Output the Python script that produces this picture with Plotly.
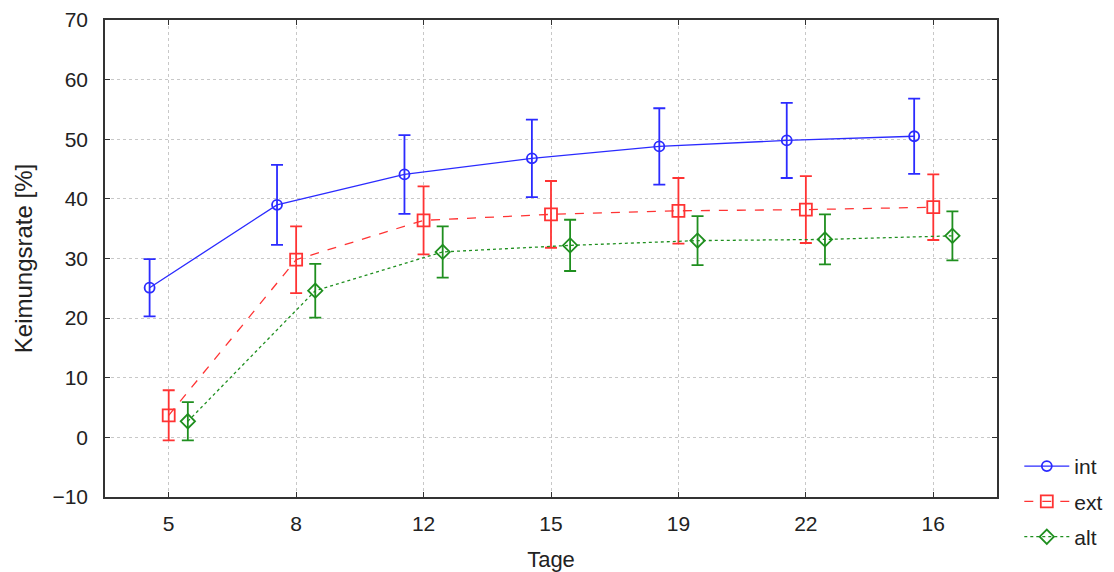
import plotly.graph_objects as go

tage = ["5", "8", "12", "15", "19", "22", "16"]
int_mean = [25.1, 39.0, 44.1, 46.8, 48.8, 49.8, 50.5]
int_err = [4.8, 6.7, 6.6, 6.5, 6.4, 6.3, 6.3]
ext_mean = [3.7, 29.8, 36.4, 37.4, 38.0, 38.2, 38.6]
ext_err = [4.2, 5.6, 5.7, 5.6, 5.5, 5.6, 5.5]
alt_mean = [2.7, 24.6, 31.1, 32.2, 33.0, 33.2, 33.8]
alt_err = [3.2, 4.5, 4.3, 4.3, 4.1, 4.2, 4.1]

idx = list(range(len(tage)))
offset = 0.15

series = [
    ("int", int_mean, int_err, -offset, "#2b2bff", "solid", "circle-open", 10),
    ("ext", ext_mean, ext_err, 0.0, "#ff3333", "dash", "square-open", 12),
    ("alt", alt_mean, alt_err, offset, "#1f8f1f", "dot", "diamond-open", 11),
]

fig = go.Figure()
for name, m, e, off, col, dash, sym, sz in series:
    fig.add_trace(go.Scatter(
        x=[i + off for i in idx], y=m, name=name, mode="lines+markers",
        legendgroup=name,
        line=dict(color=col, dash=dash, width=1.3),
        marker=dict(symbol=sym, size=sz, color=col, line=dict(width=1.8, color=col)),
        error_y=dict(type="data", array=e, visible=True, color=col, thickness=1.8, width=6),
    ))

fig.update_layout(
    width=1106, height=564,
    paper_bgcolor="white", plot_bgcolor="white",
    margin=dict(l=97, r=117, t=12, b=75, autoexpand=False),
    font=dict(family="Liberation Sans, Arial, sans-serif", size=20, color="#222222"),
    legend=dict(x=1.025, xanchor="left", y=0.107, yanchor="top",
                font=dict(size=21), tracegroupgap=5, traceorder="grouped",
                itemwidth=45, bgcolor="rgba(0,0,0,0)"),
    showlegend=True,
)
fig.update_xaxes(
    tickmode="array", tickvals=idx, ticktext=tage,
    range=[-0.5, 6.5],
    showgrid=True, gridcolor="#c8c8c8", griddash="dot", gridwidth=1,
    showline=True, linecolor="#333333", linewidth=1.5, mirror="ticks",
    ticks="inside", ticklen=5, tickcolor="#333333",
    zeroline=False, automargin=False,
    title=dict(text="Tage", font=dict(size=22), standoff=18),
    tickfont=dict(size=21), ticklabelstandoff=7,
)
fig.update_yaxes(
    range=[-10, 70], tickmode="linear", tick0=-10, dtick=10,
    showgrid=True, gridcolor="#c8c8c8", griddash="dot", gridwidth=1,
    showline=True, linecolor="#333333", linewidth=1.5, mirror="ticks",
    ticks="inside", ticklen=5, tickcolor="#333333", zeroline=False,
    automargin=False,
    title=dict(text="Keimungsrate [%]", font=dict(size=24), standoff=13),
    tickfont=dict(size=21), ticklabelstandoff=11,
)

fig.write_html("out.html")
